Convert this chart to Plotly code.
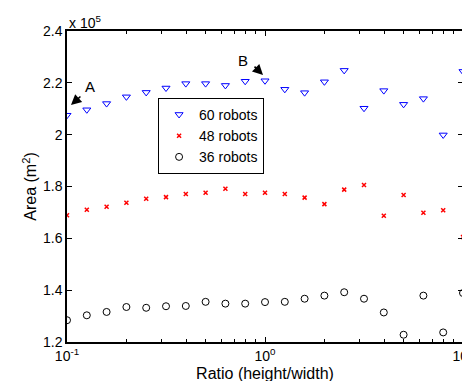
import plotly.graph_objects as go

ratios = [10 ** (-1 + 0.1 * k) for k in range(21)]

area60 = [2.075, 2.096, 2.120, 2.146, 2.163, 2.180, 2.197, 2.197, 2.190, 2.206, 2.208,
          2.175, 2.162, 2.204, 2.248, 2.102, 2.170, 2.117, 2.139, 1.999, 2.244]
area48 = [1.689, 1.710, 1.722, 1.737, 1.753, 1.759, 1.771, 1.776, 1.791, 1.771, 1.776,
          1.771, 1.757, 1.732, 1.788, 1.806, 1.687, 1.767, 1.699, 1.708, 1.605]
area36 = [1.284, 1.303, 1.316, 1.335, 1.332, 1.338, 1.339, 1.355, 1.348, 1.348, 1.354,
          1.355, 1.367, 1.379, 1.392, 1.367, 1.314, 1.228, 1.379, 1.237, 1.389]
area60 = [v * 1e5 for v in area60]
area48 = [v * 1e5 for v in area48]
area36 = [v * 1e5 for v in area36]

ytickvals = [1.2e5, 1.4e5, 1.6e5, 1.8e5, 2.0e5, 2.2e5, 2.4e5]
yticktext = ["1.2", "1.4", "1.6", "1.8", "2", "2.2", "2.4"]
xtickvals = [0.1, 1, 10]
xticktext = ["10<sup>-1</sup>", "10<sup>0</sup>", "10<sup>1</sup>"]
minor_x = [m * d for d in (0.1, 1) for m in range(2, 10)]

font = "Liberation Sans, Arial, sans-serif"

fig = go.Figure()
fig.add_trace(go.Scatter(x=ratios, y=area60, mode="markers", name="60 robots",
                         marker=dict(symbol="triangle-down-open", size=7, color="blue",
                                     line=dict(width=1))))
fig.add_trace(go.Scatter(x=ratios, y=area48, mode="markers", name="48 robots",
                         marker=dict(symbol="x-thin-open", size=4, color="red",
                                     line=dict(width=1.5, color="red"))))
fig.add_trace(go.Scatter(x=ratios, y=area36, mode="markers", name="36 robots",
                         marker=dict(symbol="circle-open", size=7, color="black",
                                     line=dict(width=1))))

fig.update_layout(
    template="none",
    width=470, height=381,
    margin=dict(l=59, r=15, t=23, b=47),
    paper_bgcolor="white", plot_bgcolor="white",
    font=dict(family=font, size=14, color="black"),
    showlegend=True,
    legend=dict(x=0.23, y=0.785, xanchor="left", yanchor="top",
                bgcolor="white", bordercolor="black", borderwidth=1,
                font=dict(size=14), tracegroupgap=0, itemwidth=30),
    xaxis=dict(type="log", range=[-1, 1], tickvals=xtickvals, ticktext=xticktext,
               ticks="inside", ticklen=5, tickcolor="black", showline=True,
               linecolor="black", linewidth=1.5, mirror="ticks", showgrid=False,
               zeroline=False, automargin=False,
               minor=dict(tickvals=minor_x, ticks="inside", ticklen=3,
                          tickcolor="black", showgrid=False),
               title=dict(text="Ratio (height/width)", font=dict(size=16), standoff=5),
               tickfont=dict(size=14)),
    yaxis=dict(range=[1.2e5, 2.4e5], tickvals=ytickvals, ticktext=yticktext,
               ticks="inside", ticklen=5, tickcolor="black", showline=True,
               linecolor="black", linewidth=1.5, mirror="ticks", showgrid=False,
               zeroline=False, automargin=False,
               title=dict(text="Area (m<sup>2</sup>)", font=dict(size=16), standoff=2),
               tickfont=dict(size=14)),
    annotations=[
        dict(x=0, y=1, xref="paper", yref="paper", xanchor="left", yanchor="bottom",
             text="x 10<sup>5</sup>", showarrow=False, font=dict(size=14), yshift=-2),
        dict(x=-0.98, y=2.114e5, xref="x", yref="y", text="", showarrow=True,
             ax=11, ay=-10, arrowhead=2, arrowsize=1.3, arrowwidth=1.6, arrowcolor="black"),
        dict(x=-0.884, y=2.184e5, xref="x", yref="y", text="A", showarrow=False,
             font=dict(size=15)),
        dict(x=-0.0101, y=2.230e5, xref="x", yref="y", text="", showarrow=True,
             ax=-10, ay=-10, arrowhead=2, arrowsize=1.3, arrowwidth=1.6, arrowcolor="black"),
        dict(x=-0.111, y=2.288e5, xref="x", yref="y", text="B", showarrow=False,
             font=dict(size=15)),
    ],
)

fig.write_html("out.html")
